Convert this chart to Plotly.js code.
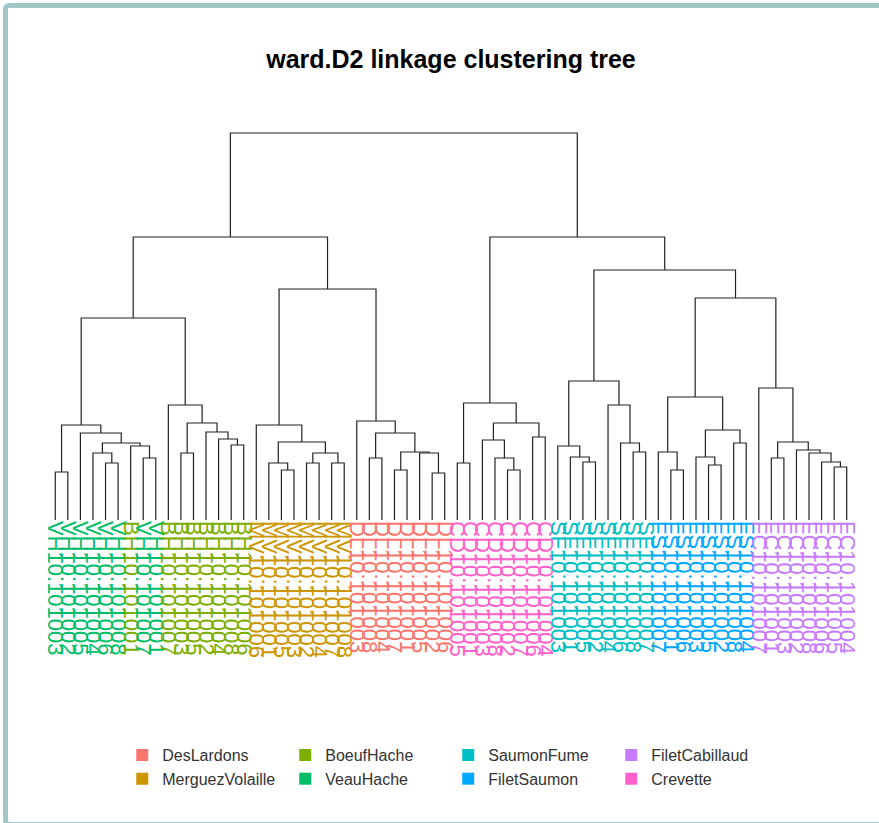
<!DOCTYPE html>
<html><head><meta charset="utf-8">
<script src="https://cdn.plot.ly/plotly-3.0.1.min.js"></script>
<style>
body{margin:0;background:#fff;overflow:hidden}
#chart{position:absolute;left:0;top:0;width:879px;height:823px}
#frame{position:absolute;left:3px;top:3px;width:900px;height:814px;border:5px solid #a2c5c5;border-right:none;border-radius:6px;pointer-events:none}
</style>
</head><body>
<div id="chart"></div><div id="frame"></div>
<script>
// ---- data ----
const groupNames  = ["DesLardons","MerguezVolaille","BoeufHache","VeauHache","SaumonFume","FiletSaumon","FiletCabillaud","Crevette"];
const groupColors = ["#F8766D","#CD9600","#7CAE00","#00BE67","#00BFC4","#00A9FF","#C77CFF","#FF61CC"];
const legendOrder = ["DesLardons","BoeufHache","SaumonFume","FiletCabillaud","MerguezVolaille","VeauHache","FiletSaumon","Crevette"];

// leaves in dendrogram order
const leafLabels = [
 "VH10.101003","VH10.101002","VH10.101005","VH10.101004","VH10.101006","VH10.101008","BH10.101001","VH10.101007",
 "VH10.101001","BH10.101007","BH10.101003","BH10.101005","BH10.101002","BH10.101004","BH10.101008","BH10.101006",
 "MV10.101006","MV10.101001","MV10.101005","MV10.101003","MV10.101002","MV10.101004","MV10.101007","MV10.101008",
 "DL10.101003","DL10.101008","DL10.101004","DL10.101007","DL10.101001","DL10.101005","DL10.101002","DL10.101006",
 "CD10.101005","CD10.101001","CD10.101003","CD10.101008","CD10.101002","CD10.101007","CD10.101006","CD10.101004",
 "SF10.101003","SF10.101001","SF10.101005","SF10.101002","SF10.101004","SF10.101006","SF10.101008","SF10.101007",
 "FS10.101007","FS10.101001","FS10.101006","FS10.101003","FS10.101005","FS10.101002","FS10.101008","FS10.101004",
 "FC10.101007","FC10.101001","FC10.101003","FC10.101002","FC10.101008","FC10.101006","FC10.101005","FC10.101004"
];
const leafGroups = [
 "VeauHache","VeauHache","VeauHache","VeauHache","VeauHache","VeauHache","BoeufHache","VeauHache",
 "VeauHache","BoeufHache","BoeufHache","BoeufHache","BoeufHache","BoeufHache","BoeufHache","BoeufHache",
 "MerguezVolaille","MerguezVolaille","MerguezVolaille","MerguezVolaille","MerguezVolaille","MerguezVolaille","MerguezVolaille","MerguezVolaille",
 "DesLardons","DesLardons","DesLardons","DesLardons","DesLardons","DesLardons","DesLardons","DesLardons",
 "Crevette","Crevette","Crevette","Crevette","Crevette","Crevette","Crevette","Crevette",
 "SaumonFume","SaumonFume","SaumonFume","SaumonFume","SaumonFume","SaumonFume","SaumonFume","SaumonFume",
 "FiletSaumon","FiletSaumon","FiletSaumon","FiletSaumon","FiletSaumon","FiletSaumon","FiletSaumon","FiletSaumon",
 "FiletCabillaud","FiletCabillaud","FiletCabillaud","FiletCabillaud","FiletCabillaud","FiletCabillaud","FiletCabillaud","FiletCabillaud"
];

// hclust-style merges: negative = leaf (1-based position), positive = earlier merge (1-based)
const mergeLeft  = [-1,-5,-4,-8,-7, 3,-3, 1,-11,-15,-14,-13, 9,-10, 8,
                    -19,-18,-21,-23,18,17,-17,
                    -26,-28,-31,-30,24,23,-25,22,15,
                    -33,-37,-36,-35,-39,35,32,
                    -43,-42,-41,-47,-46,-45,41,
                    -50,-49,-53,-52,-55,49,47,
                    -63,-62,-61,-60,-58,57,-57,52,45,38,31];
const mergeRight = [-2,-6, 2,-9, 4, 5, 6, 7,-12,-16, 10, 11,12, 13,14,
                    -20, 16,-22,-24,19,20,21,
                    -27,-29,-32, 25,26,27,28,29,30,
                    -34,-38, 33, 34,-40,36,37,
                    -44, 39, 40,-48, 42, 43,44,
                    -51, 46,-54, 48,-56,50,51,
                    -64, 53, 54, 55,-59,56,58,59,60,61,62];
const mergeHeights = [4.8,5.7,6.7,6.2,7.4,7.7,8.7,9.5,6.7,7.5,8.1,8.8,9.7,11.5,20.2,
                    5.0,5.7,5.7,5.7,6.7,7.8,9.5,
                    6.2,5.0,4.7,6.7,6.8,8.7,9.9,23.1,28.3,
                    5.7,5.0,6.2,8.0,8.3,9.7,11.7,
                    5.8,6.3,7.4,6.8,7.7,11.5,13.9,
                    5.0,6.8,5.5,6.3,7.7,9.0,12.3,
                    5.3,5.8,6.7,7.0,6.2,7.8,13.2,22.2,25.0,28.3,38.7];

// ---- build segments ----
const mx = [], mh = [];
function pos(n){ return n < 0 ? [-n, 0] : [mx[n-1], mh[n-1]]; }
const sx = [], sy = [];
for (let i = 0; i < mergeLeft.length; i++) {
  const [xl, hl] = pos(mergeLeft[i]);
  const [xr, hr] = pos(mergeRight[i]);
  const h = mergeHeights[i];
  sx.push(xl, xl, xr, xr, null);
  sy.push(hl, h, h, hr, null);
  mx.push((xl + xr) / 2); mh.push(h);
}
const colorOf = g => groupColors[groupNames.indexOf(g)];
const tickvals = leafLabels.map((_, i) => i + 1);
const ticktext = leafLabels.map((l, i) => `<span style="color:${colorOf(leafGroups[i])}">${l}</span>`);

const traces = [{
  type: 'scatter', mode: 'lines', x: sx, y: sy,
  line: {color: '#222', width: 1.2}, hoverinfo: 'skip', showlegend: false
}];
legendOrder.forEach(g => traces.push({
  type: 'scatter', mode: 'markers', x: [null], y: [null], name: g,
  marker: {symbol: 'square', size: 12, color: colorOf(g)}
}));

const layout = {
  width: 879, height: 823,
  paper_bgcolor: '#fff', plot_bgcolor: '#fff',
  margin: {l: 48.7, r: 25.8, t: 120, b: 303},
  title: {text: '<b>ward.D2 linkage clustering tree</b>', x: 0.5, xref: 'paper',
          y: 1 - 59/823, yref: 'container', yanchor: 'middle',
          font: {family: 'Liberation Sans, Arial, sans-serif', size: 25, color: '#000'}},
  xaxis: {range: [0.5, 64.5], tickvals: tickvals, ticktext: ticktext, tickangle: 90,
          showgrid: false, zeroline: false, showline: false, ticks: '',
          tickfont: {family: 'Liberation Sans, Arial, sans-serif', size: 22}, fixedrange: true, automargin: false},
  yaxis: {range: [0, 40], showgrid: false, zeroline: false, showline: false,
          showticklabels: false, ticks: '', fixedrange: true},
  showlegend: true,
  legend: {orientation: 'h', x: (122 - 48.7)/804.5, xanchor: 'left', y: (520 - 738)/400, yanchor: 'top',
           entrywidth: 118, entrywidthmode: 'pixels', traceorder: 'normal',
           font: {family: 'Liberation Sans, Arial, sans-serif', size: 16, color: '#333'},
           itemclick: false, itemdoubleclick: false, tracegroupgap: 0}
};
Plotly.newPlot('chart', traces, layout, {displayModeBar: false, staticPlot: true});
</script>
</body></html>
